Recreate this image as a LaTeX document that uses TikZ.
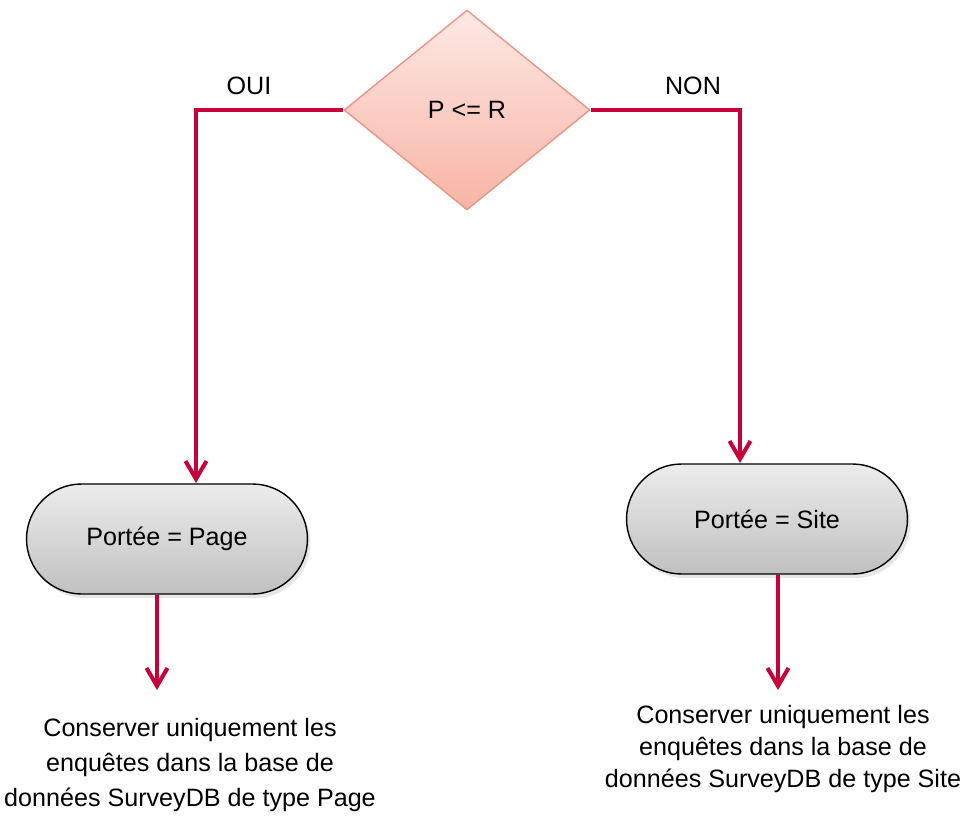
\documentclass[tikz,border=0pt]{standalone}
\usepackage{fontspec}
\setmainfont{Liberation Sans}
\usetikzlibrary{shapes.geometric, arrows.meta, shadows}

\definecolor{flowred}{RGB}{200,0,58}
\definecolor{rosetop}{RGB}{253,232,228}
\definecolor{rosebottom}{RGB}{248,180,165}
\definecolor{roseline}{RGB}{232,150,134}
\definecolor{greytop}{RGB}{236,236,236}
\definecolor{greybottom}{RGB}{192,192,192}

\begin{document}
\begin{tikzpicture}[
    x=0.02cm, y=-0.02cm,
    every node/.style={font=\fontsize{14.3}{16}\selectfont},
    decision/.style={diamond, draw=roseline, line width=0.8pt,
      top color=rosetop, bottom color=rosebottom,
      minimum width=4.92cm, minimum height=4cm, inner sep=0pt},
    terminal/.style={rectangle, rounded corners=1.1cm, draw=black, line width=0.8pt,
      top color=greytop, bottom color=greybottom,
      minimum width=5.62cm, minimum height=2.2cm,
      drop shadow={opacity=0.2, shadow xshift=0.6mm, shadow yshift=-0.8mm}},
    link/.style={draw=flowred, line width=2.3pt},
    arrow/.style={link, -{Straight Barb[length=0.36cm, width=0.42cm]}}
  ]
  \useasboundingbox (0,0) rectangle (966,818);

  % --- Test ---
  \node[decision] (test) at (467,110) {P <= R};
  \node (oui) at (249,86) {OUI};
  \node (non) at (693,86) {NON};

  % --- Results ---
  \node[terminal] (page) at (167,539) {Portée = Page};
  \node[terminal] (site) at (767,519) {Portée = Site};

  \node[align=center, font=\fontsize{14.3}{19.9}\selectfont] (keeppage) at (190,765)
    {Conserver uniquement les\\enquêtes dans la base de\\données SurveyDB de type Page};
  \node[align=center, font=\fontsize{14.3}{18.3}\selectfont] (keepsite) at (783,749)
    {Conserver uniquement les\\enquêtes dans la base de\\données SurveyDB de type Site};

  % arrow ends
  \coordinate (pagein) at (196,483);
  \coordinate (sitein) at (740,463);
  \coordinate (pageout) at (157,690);
  \coordinate (siteout) at (778,690);

  % OUI branch (left)
  \draw[arrow] (test.west) -| (pagein);
  % NON branch (right)
  \draw[arrow] (test.east) -| (sitein);
  % down to the texts
  \draw[arrow] (page.south -| pageout) -- (pageout);
  \draw[arrow] (site.south -| siteout) -- (siteout);
\end{tikzpicture}
\end{document}
